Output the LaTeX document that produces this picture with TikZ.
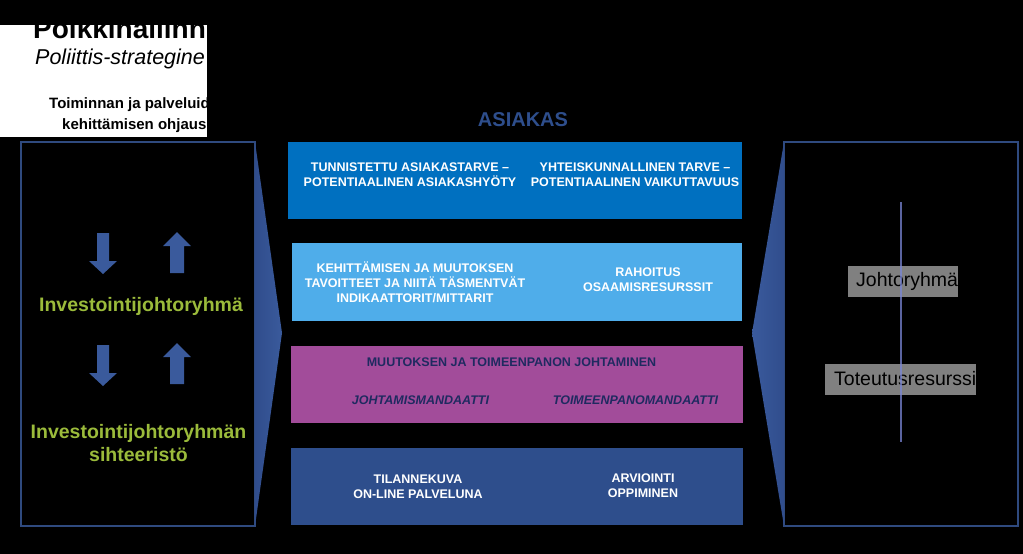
\documentclass[tikz,border=0pt]{standalone}
\usepackage{fontspec}
\setmainfont{Liberation Sans}
\definecolor{azul}{HTML}{0070C0}
\definecolor{celeste}{HTML}{4FADEA}
\definecolor{morado}{HTML}{A24C9A}
\definecolor{marino}{HTML}{2E4E8C}
\definecolor{borde}{HTML}{2F4A7F}
\definecolor{flecha}{HTML}{3A5A9C}
\definecolor{flechaosc}{HTML}{304D8C}
\definecolor{verde}{HTML}{9BBB3B}
\definecolor{tinta}{HTML}{1F2A60}
\definecolor{linea}{HTML}{7A86D6}
\definecolor{gris}{HTML}{808080}
\tikzset{
  caja/.style={minimum width=452pt, minimum height=77pt, inner sep=0pt},
  texto/.style={text=white, font=\bfseries\fontsize{12.5}{15}\selectfont, align=center},
  verdetxt/.style={text=verde, font=\bfseries\fontsize{19.5}{23}\selectfont, align=center},
  grisbox/.style={fill=gris, anchor=west, inner sep=0pt, minimum height=31pt,
    font=\fontsize{19.5}{22}\selectfont}
}
\begin{document}
\begin{tikzpicture}[x=1pt,y=-1pt]
                \useasboundingbox (0,0) rectangle (1023,554);
                \fill[black] (0,0) rectangle (1023,554); % fondo
                % recuadro blanco
                \fill[white] (0,25) rectangle (207,137);
                \begin{scope}
                \clip (0,25) rectangle (207,137);
                \node[anchor=base west, inner sep=0pt, font=\bfseries\fontsize{28}{30}\selectfont] (titulo) at (33,38) {Poikkihallinn};
                \node[anchor=base west, inner sep=0pt, font=\itshape\fontsize{21.5}{24}\selectfont] (subtitulo) at (35,64) {Poliittis-strategine};
                \node[anchor=base west, inner sep=0pt, font=\bfseries\fontsize{15}{18}\selectfont] (ohjaus1) at (49,108) {Toiminnan ja palveluid};
                \node[anchor=base west, inner sep=0pt, font=\bfseries\fontsize{15}{18}\selectfont] (ohjaus2) at (62,129) {kehittämisen ohjaus};
                \end{scope}
                \node[text=marino, font=\bfseries\fontsize{20}{22}\selectfont] (asiakas) at (523,120) {ASIAKAS};
                % cajas centrales
                \node[caja, fill=azul, minimum width=454pt] (tarve) at (515,180.5) {};
                \node[caja, fill=celeste, minimum width=450pt, minimum height=78pt] (kehitys) at (517,282) {};
                \node[caja, fill=morado] (johtaminen) at (517,384.5) {};
                \node[caja, fill=marino] (tilanne) at (517,486.5) {};
                \node[texto] (asiakastarve) at (410,175) {TUNNISTETTU ASIAKASTARVE –\\POTENTIAALINEN ASIAKASHYÖTY};
                \node[texto] (yhteiskunta) at (635,175) {YHTEISKUNNALLINEN TARVE –\\POTENTIAALINEN VAIKUTTAVUUS};
                \node[texto] (tavoitteet) at (415,282) {KEHITTÄMISEN JA MUUTOKSEN\\TAVOITTEET JA NIITÄ TÄSMENTVÄT\\INDIKAATTORIT/MITTARIT};
                \node[texto] (rahoitus) at (648,280) {RAHOITUS\\OSAAMISRESURSSIT};
                \node[texto, text=tinta] (muutos) at (511.5,362.5) {MUUTOKSEN JA TOIMEENPANON JOHTAMINEN};
                \node[texto, text=tinta, font=\bfseries\itshape\fontsize{12.5}{15}\selectfont] (mandaatti1) at (420.5,400) {JOHTAMISMANDAATTI};
                \node[texto, text=tinta, font=\bfseries\itshape\fontsize{12.5}{15}\selectfont] (mandaatti2) at (635.5,400) {TOIMEENPANOMANDAATTI};
                \node[texto] (tilannekuva) at (418,487) {TILANNEKUVA\\ON-LINE PALVELUNA};
                \node[texto] (arviointi) at (643,486) {ARVIOINTI\\OPPIMINEN};
                % lado izquierdo
                \draw[borde, line width=1.2pt] (21,142) rectangle (255,526);
                \shade[left color=flechaosc, right color=flecha] (255,142) -- (282,333) -- (255,526) -- cycle;
                \foreach \y in {233,345}
                \fill[flecha, shift={(103,\y)}] (-6,0) -- (6,0) -- (6,28) -- (14,28) -- (0,41) -- (-14,28) -- (-6,28) -- cycle;
                \foreach \y in {232,343}
                \fill[flecha, shift={(177,\y)}] (0,0) -- (14,14) -- (7,14) -- (7,41) -- (-7,41) -- (-7,14) -- (-14,14) -- cycle;
                \node[verdetxt] (ryhma) at (141,306) {Investointijohtoryhmä};
                \node[verdetxt] (sihteeristo) at (138.5,443.5) {Investointijohtoryhmän\\sihteeristö};
                % lado derecho
                \draw[borde, line width=1.2pt] (784,142) rectangle (1018,526);
                \shade[left color=flecha, right color=flechaosc] (784,142) -- (752,333) -- (784,526) -- cycle;
                \node[grisbox] (johto) at (848,281.5) {\hspace{8pt}Johtoryhmä};
                \node[grisbox] (toteutus) at (825,379) {\hspace{9pt}Toteutusresurssi};
                \coordinate (ylos) at (901,202);
                \coordinate (alas) at (901,442);
                \draw[linea, line width=1.5pt, opacity=0.75] (ylos) -- (alas);
\end{tikzpicture}
\end{document}
